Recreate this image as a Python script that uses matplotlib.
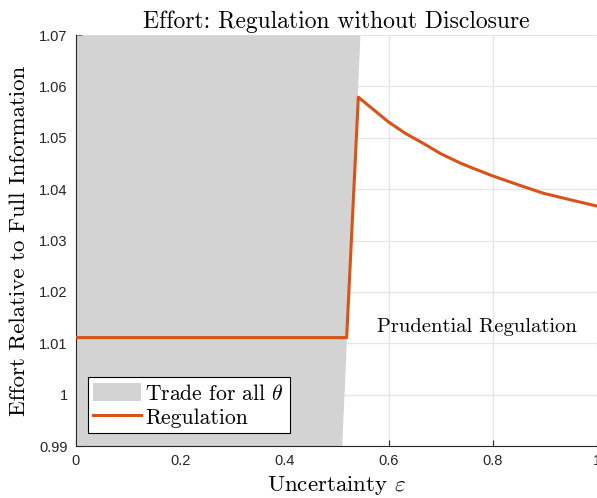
import matplotlib.pyplot as plt

plt.rcParams['mathtext.fontset'] = 'cm'

# shaded region: boundary of "trade for all theta"
bound_y = [0.99, 1.07]
bound_x = [0.510, 0.545]

# effort under regulation
eps = [0.0, 0.5195, 0.5419, 0.5995, 0.633, 0.6667, 0.70, 0.737, 0.7562, 0.799,
       0.85, 0.897, 0.95, 1.0]
effort = [1.0111, 1.0111, 1.0579, 1.0531, 1.0508, 1.0489, 1.0469, 1.0451, 1.0443,
          1.0426, 1.0408, 1.0392, 1.0379, 1.0367]

xticks = [0, 0.2, 0.4, 0.6, 0.8, 1]
yticks = [0.99, 1, 1.01, 1.02, 1.03, 1.04, 1.05, 1.06, 1.07]
yticklabels = ['0.99', '1', '1.01', '1.02', '1.03', '1.04', '1.05', '1.06', '1.07']

fig = plt.figure(figsize=(5.97, 4.98), dpi=100)
ax = fig.add_axes([76 / 597, 52 / 498, 521 / 597, 411 / 498])

ax.fill_betweenx(bound_y, 0, bound_x, color='#d3d3d3', lw=0, label=r'Trade for all $\theta$', zorder=1)
ax.plot(eps, effort, color='#d95319', lw=2.2, label='Regulation', zorder=3)

ax.set_xlim(0, 1)
ax.set_ylim(0.99, 1.07)
ax.set_xticks(xticks)
ax.set_xticklabels(['0', '0.2', '0.4', '0.6', '0.8', '1'])
ax.set_yticks(yticks)
ax.set_yticklabels(yticklabels)
ax.grid(True, color='#e5e5e5', lw=0.9, zorder=0)
ax.set_axisbelow(True)
for s in ['top', 'right']:
    ax.spines[s].set_visible(False)
for s in ['left', 'bottom']:
    ax.spines[s].set_color('#262626')
    ax.spines[s].set_linewidth(0.8)
ax.tick_params(direction='in', length=4, width=0.8, colors='#262626', labelsize=10.5, pad=6)
for lab in ax.get_xticklabels() + ax.get_yticklabels():
    lab.set_family('Liberation Sans')

serif = 'cmr10'
ax.set_title('Effort: Regulation without Disclosure', family=serif, fontsize=17, pad=5)
ax.set_xlabel(r'Uncertainty $\varepsilon$', family=serif, fontsize=16.5, labelpad=4)
ax.set_ylabel('Effort Relative to Full Information', family=serif, fontsize=16.5, labelpad=7)
ax.text(0.77, 1.0132, 'Prudential Regulation', family=serif, fontsize=14.8, ha='center', va='center')

leg = ax.legend(loc='lower left', bbox_to_anchor=(12 / 521, 13 / 411), prop={'family': serif, 'size': 15.6},
                frameon=True, fancybox=False, edgecolor='black', framealpha=1,
                handlelength=2.2, handleheight=0.95, handletextpad=0.2, borderpad=0.25,
                labelspacing=0.15, borderaxespad=0)
leg.get_frame().set_linewidth(0.8)

fig.savefig('out.png', dpi=100)
